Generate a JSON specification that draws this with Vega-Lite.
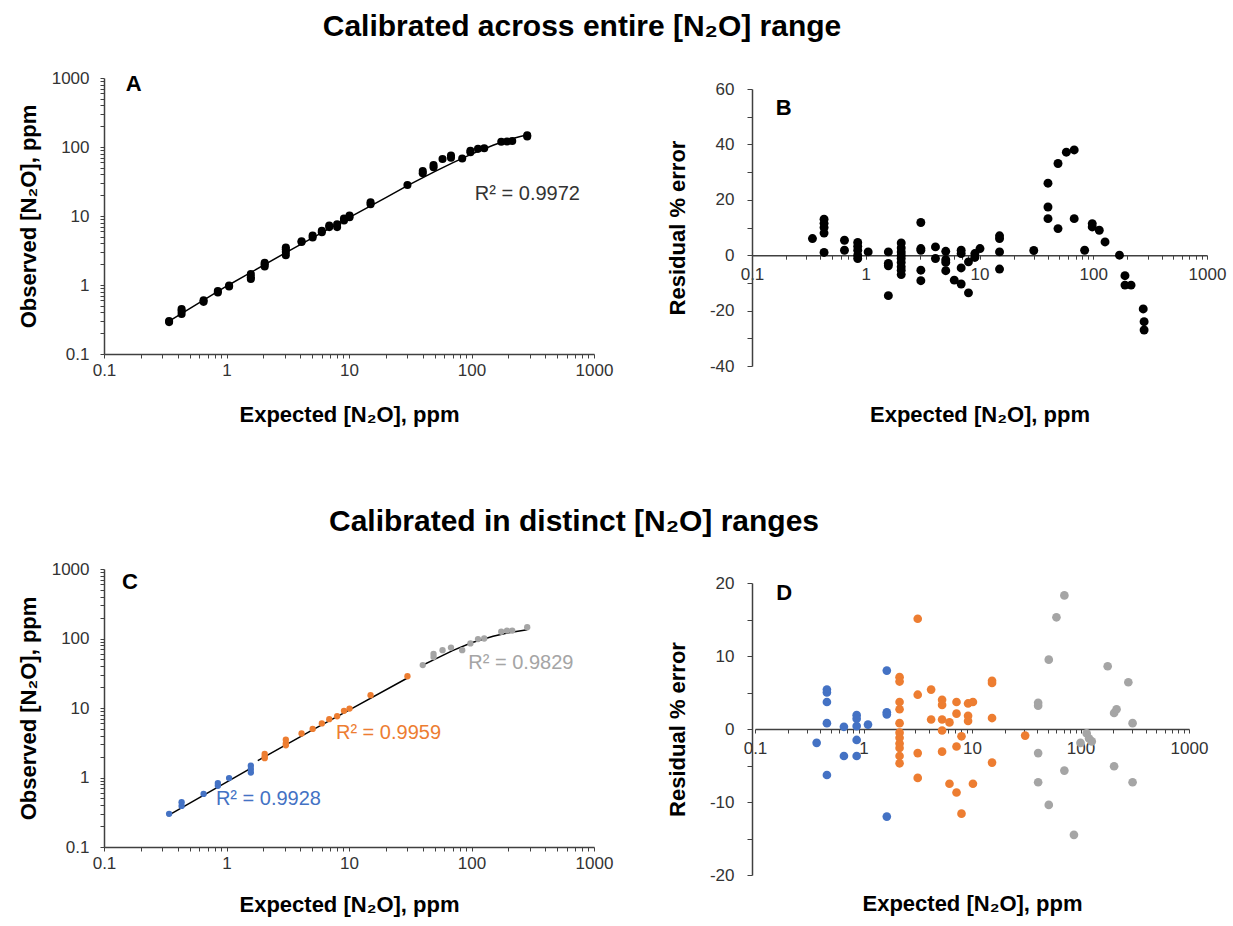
{
  "$schema": "https://vega.github.io/schema/vega-lite/v6.json",
  "background": "white",
  "padding": {"left": 17, "top": 12, "right": 5, "bottom": 5},
  "config": {
    "view": {"stroke": null},
    "font": "Liberation Sans",
    "axis": {
      "grid": false,
      "domainColor": "#404040",
      "domainWidth": 1.5,
      "tickColor": "#404040",
      "tickWidth": 1,
      "tickSize": 4,
      "labelFont": "Liberation Sans",
      "labelFontSize": 17,
      "labelColor": "#333333",
      "labelFlush": false,
      "labelOverlap": false,
      "titleFont": "Liberation Sans",
      "titleFontSize": 22,
      "titleFontWeight": "bold",
      "titleColor": "#000000"
    },
    "title": {"font": "Liberation Sans", "fontWeight": "bold", "fontSize": 30, "color": "#000000"}
  },
  "datasets": {
    "obsA": [
      {"expected": 0.34, "observed": 0.30}, {"expected": 0.34, "observed": 0.29},
      {"expected": 0.43, "observed": 0.45}, {"expected": 0.43, "observed": 0.42}, {"expected": 0.43, "observed": 0.38},
      {"expected": 0.65, "observed": 0.57}, {"expected": 0.65, "observed": 0.60},
      {"expected": 0.85, "observed": 0.78}, {"expected": 0.85, "observed": 0.82},
      {"expected": 1.05, "observed": 0.95}, {"expected": 1.05, "observed": 0.98},
      {"expected": 1.58, "observed": 1.44}, {"expected": 1.58, "observed": 1.30}, {"expected": 1.58, "observed": 1.22},
      {"expected": 2.05, "observed": 2.0}, {"expected": 2.05, "observed": 1.85}, {"expected": 2.05, "observed": 2.1},
      {"expected": 3.05, "observed": 3.3}, {"expected": 3.05, "observed": 3.0}, {"expected": 3.05, "observed": 2.7}, {"expected": 3.05, "observed": 3.5},
      {"expected": 4.1, "observed": 4.2}, {"expected": 4.1, "observed": 4.3},
      {"expected": 5.05, "observed": 5.2}, {"expected": 5.05, "observed": 4.9},
      {"expected": 6.0, "observed": 5.8}, {"expected": 6.0, "observed": 6.1},
      {"expected": 6.9, "observed": 6.9}, {"expected": 6.9, "observed": 7.3},
      {"expected": 8.0, "observed": 6.9}, {"expected": 8.0, "observed": 7.6},
      {"expected": 9.1, "observed": 8.6}, {"expected": 9.1, "observed": 9.2},
      {"expected": 10.1, "observed": 9.6}, {"expected": 10.1, "observed": 10.2},
      {"expected": 15, "observed": 14.8}, {"expected": 15, "observed": 15.8},
      {"expected": 30, "observed": 28.2},
      {"expected": 40, "observed": 41.6}, {"expected": 40, "observed": 45},
      {"expected": 49, "observed": 51}, {"expected": 49, "observed": 55},
      {"expected": 58, "observed": 67},
      {"expected": 68, "observed": 75}, {"expected": 68, "observed": 70},
      {"expected": 84, "observed": 68},
      {"expected": 98, "observed": 84}, {"expected": 98, "observed": 88},
      {"expected": 113, "observed": 94},
      {"expected": 127, "observed": 96},
      {"expected": 175, "observed": 119},
      {"expected": 195, "observed": 120},
      {"expected": 215, "observed": 122},
      {"expected": 285, "observed": 142}, {"expected": 285, "observed": 148}
    ],
    "fitA": [
      {"expected": 0.33, "observed": 0.29}, {"expected": 1, "observed": 0.96}, {"expected": 3, "observed": 2.9},
      {"expected": 10, "observed": 9.5}, {"expected": 20, "observed": 18.5}, {"expected": 30, "observed": 27.5},
      {"expected": 50, "observed": 44}, {"expected": 70, "observed": 59}, {"expected": 100, "observed": 79},
      {"expected": 150, "observed": 106}, {"expected": 200, "observed": 127}, {"expected": 250, "observed": 142},
      {"expected": 300, "observed": 153}
    ],
    "noteA": [{"expected": 286, "observed": 21, "text": "R² = 0.9972"}],
    "tagA": [{"expected": 0.175, "observed": 810, "text": "A"}],
    "obsB": [
      {"expected": 0.34, "residual": 6},
      {"expected": 0.43, "residual": 13}, {"expected": 0.43, "residual": 11.5}, {"expected": 0.43, "residual": 10}, {"expected": 0.43, "residual": 8}, {"expected": 0.43, "residual": 1},
      {"expected": 0.65, "residual": 5.4}, {"expected": 0.65, "residual": 1.8},
      {"expected": 0.85, "residual": 4.6}, {"expected": 0.85, "residual": 3.2}, {"expected": 0.85, "residual": 1.8}, {"expected": 0.85, "residual": 0}, {"expected": 0.85, "residual": -1.2},
      {"expected": 1.05, "residual": 1.2},
      {"expected": 1.58, "residual": 1.2}, {"expected": 1.58, "residual": -3}, {"expected": 1.58, "residual": -3.8}, {"expected": 1.58, "residual": -14.6},
      {"expected": 2.05, "residual": 4.4}, {"expected": 2.05, "residual": 2.6}, {"expected": 2.05, "residual": 1.2}, {"expected": 2.05, "residual": 0}, {"expected": 2.05, "residual": -1.2}, {"expected": 2.05, "residual": -2.6}, {"expected": 2.05, "residual": -4.2}, {"expected": 2.05, "residual": -5.4}, {"expected": 2.05, "residual": -7},
      {"expected": 3.05, "residual": 11.8}, {"expected": 3.05, "residual": 2.4}, {"expected": 3.05, "residual": 1.8}, {"expected": 3.05, "residual": -5.4}, {"expected": 3.05, "residual": -9.2},
      {"expected": 4.1, "residual": 3}, {"expected": 4.1, "residual": -1.2},
      {"expected": 5.05, "residual": 1.4}, {"expected": 5.05, "residual": -1.6}, {"expected": 5.05, "residual": -2.6}, {"expected": 5.05, "residual": -5.6},
      {"expected": 6.0, "residual": -9},
      {"expected": 6.9, "residual": 1.8}, {"expected": 6.9, "residual": 0.6}, {"expected": 6.9, "residual": -4.6}, {"expected": 6.9, "residual": -10.4},
      {"expected": 8.0, "residual": -2.4}, {"expected": 8.0, "residual": -13.6},
      {"expected": 9.1, "residual": 0.6}, {"expected": 9.1, "residual": -0.8},
      {"expected": 10.1, "residual": 2.4},
      {"expected": 15, "residual": 7}, {"expected": 15, "residual": 6}, {"expected": 15, "residual": 1.2}, {"expected": 15, "residual": -5},
      {"expected": 30, "residual": 1.7},
      {"expected": 40, "residual": 26}, {"expected": 40, "residual": 17.4}, {"expected": 40, "residual": 13.2},
      {"expected": 49, "residual": 33.1}, {"expected": 49, "residual": 9.6},
      {"expected": 58, "residual": 37.2},
      {"expected": 68, "residual": 38}, {"expected": 68, "residual": 13.2},
      {"expected": 84, "residual": 1.8},
      {"expected": 98, "residual": 11.4}, {"expected": 98, "residual": 10.2},
      {"expected": 113, "residual": 9},
      {"expected": 127, "residual": 4.8},
      {"expected": 170, "residual": 0},
      {"expected": 190, "residual": -7.4}, {"expected": 190, "residual": -10.8},
      {"expected": 215, "residual": -10.8},
      {"expected": 275, "residual": -19.4}, {"expected": 280, "residual": -24}, {"expected": 280, "residual": -27}
    ],
    "tagB": [{"expected": 0.19, "residual": 53, "text": "B"}],
    "obsC": [
      {"expected": 0.34, "observed": 0.30, "range": "low"},
      {"expected": 0.43, "observed": 0.39, "range": "low"}, {"expected": 0.43, "observed": 0.44, "range": "low"},
      {"expected": 0.65, "observed": 0.58, "range": "low"},
      {"expected": 0.85, "observed": 0.76, "range": "low"}, {"expected": 0.85, "observed": 0.83, "range": "low"},
      {"expected": 1.05, "observed": 0.98, "range": "low"},
      {"expected": 1.58, "observed": 1.48, "range": "low"}, {"expected": 1.58, "observed": 1.32, "range": "low"}, {"expected": 1.58, "observed": 1.18, "range": "low"},
      {"expected": 2.05, "observed": 2.0, "range": "mid"}, {"expected": 2.05, "observed": 2.18, "range": "mid"}, {"expected": 2.05, "observed": 1.9, "range": "mid"},
      {"expected": 3.05, "observed": 3.5, "range": "mid"}, {"expected": 3.05, "observed": 3.1, "range": "mid"}, {"expected": 3.05, "observed": 2.9, "range": "mid"},
      {"expected": 4.1, "observed": 4.3, "range": "mid"},
      {"expected": 5.05, "observed": 5.0, "range": "mid"},
      {"expected": 6.0, "observed": 6.0, "range": "mid"},
      {"expected": 6.9, "observed": 6.9, "range": "mid"},
      {"expected": 8.0, "observed": 7.6, "range": "mid"},
      {"expected": 9.1, "observed": 9.1, "range": "mid"},
      {"expected": 10.1, "observed": 9.8, "range": "mid"},
      {"expected": 15, "observed": 15.3, "range": "mid"},
      {"expected": 30, "observed": 28.6, "range": "mid"},
      {"expected": 40, "observed": 41.5, "range": "high"},
      {"expected": 49, "observed": 54, "range": "high"}, {"expected": 49, "observed": 60, "range": "high"},
      {"expected": 58, "observed": 68, "range": "high"},
      {"expected": 68, "observed": 74, "range": "high"},
      {"expected": 84, "observed": 68, "range": "high"},
      {"expected": 98, "observed": 85, "range": "high"},
      {"expected": 113, "observed": 98, "range": "high"},
      {"expected": 127, "observed": 100, "range": "high"},
      {"expected": 175, "observed": 125, "range": "high"},
      {"expected": 195, "observed": 130, "range": "high"},
      {"expected": 215, "observed": 130, "range": "high"},
      {"expected": 285, "observed": 145, "range": "high"}
    ],
    "fitC": [
      {"expected": 0.33, "observed": 0.28, "range": "low"}, {"expected": 1.6, "observed": 1.38, "range": "low"},
      {"expected": 1.8, "observed": 1.75, "range": "mid"}, {"expected": 5, "observed": 4.8, "range": "mid"}, {"expected": 10, "observed": 9.3, "range": "mid"}, {"expected": 30, "observed": 27, "range": "mid"},
      {"expected": 39, "observed": 40.5, "range": "high"}, {"expected": 50, "observed": 50, "range": "high"}, {"expected": 70, "observed": 67, "range": "high"},
      {"expected": 100, "observed": 87, "range": "high"}, {"expected": 150, "observed": 108, "range": "high"}, {"expected": 200, "observed": 121, "range": "high"},
      {"expected": 285, "observed": 134, "range": "high"}
    ],
    "noteC": [
      {"expected": 2.2, "observed": 0.49, "text": "R² = 0.9928", "range": "low"},
      {"expected": 21, "observed": 4.4, "text": "R² = 0.9959", "range": "mid"},
      {"expected": 253, "observed": 45, "text": "R² = 0.9829", "range": "high"}
    ],
    "tagC": [{"expected": 0.163, "observed": 643, "text": "C"}],
    "obsD": [
      {"expected": 0.37, "residual": -1.9, "range": "low"},
      {"expected": 0.46, "residual": 5.4, "range": "low"}, {"expected": 0.46, "residual": 5.0, "range": "low"}, {"expected": 0.46, "residual": 3.7, "range": "low"}, {"expected": 0.46, "residual": 0.8, "range": "low"}, {"expected": 0.46, "residual": -6.3, "range": "low"},
      {"expected": 0.66, "residual": 0.3, "range": "low"}, {"expected": 0.66, "residual": -3.7, "range": "low"},
      {"expected": 0.865, "residual": 1.9, "range": "low"}, {"expected": 0.865, "residual": 1.4, "range": "low"}, {"expected": 0.865, "residual": 0.4, "range": "low"}, {"expected": 0.865, "residual": -1.5, "range": "low"}, {"expected": 0.865, "residual": -3.7, "range": "low"},
      {"expected": 1.1, "residual": 0.6, "range": "low"},
      {"expected": 1.64, "residual": 8.0, "range": "low"}, {"expected": 1.64, "residual": 2.3, "range": "low"}, {"expected": 1.64, "residual": 2.0, "range": "low"}, {"expected": 1.64, "residual": -12, "range": "low"},
      {"expected": 2.15, "residual": 7.1, "range": "mid"}, {"expected": 2.15, "residual": 6.5, "range": "mid"}, {"expected": 2.15, "residual": 3.7, "range": "mid"}, {"expected": 2.15, "residual": 2.7, "range": "mid"}, {"expected": 2.15, "residual": 0.8, "range": "mid"}, {"expected": 2.15, "residual": -0.5, "range": "mid"}, {"expected": 2.15, "residual": -1.2, "range": "mid"}, {"expected": 2.15, "residual": -2.0, "range": "mid"}, {"expected": 2.15, "residual": -2.6, "range": "mid"}, {"expected": 2.15, "residual": -3.7, "range": "mid"}, {"expected": 2.15, "residual": -4.7, "range": "mid"},
      {"expected": 3.16, "residual": 15.1, "range": "mid"}, {"expected": 3.16, "residual": 4.7, "range": "mid"}, {"expected": 3.16, "residual": -3.3, "range": "mid"}, {"expected": 3.16, "residual": -6.7, "range": "mid"},
      {"expected": 4.2, "residual": 5.4, "range": "mid"}, {"expected": 4.2, "residual": 1.3, "range": "mid"},
      {"expected": 5.3, "residual": 4.0, "range": "mid"}, {"expected": 5.3, "residual": 3.3, "range": "mid"}, {"expected": 5.3, "residual": 1.3, "range": "mid"}, {"expected": 5.3, "residual": -0.2, "range": "mid"}, {"expected": 5.3, "residual": -3.1, "range": "mid"},
      {"expected": 6.2, "residual": 0.9, "range": "mid"}, {"expected": 6.2, "residual": -7.5, "range": "mid"},
      {"expected": 7.2, "residual": 3.7, "range": "mid"}, {"expected": 7.2, "residual": 2.1, "range": "mid"}, {"expected": 7.2, "residual": -2.4, "range": "mid"}, {"expected": 7.2, "residual": -8.7, "range": "mid"},
      {"expected": 8.0, "residual": -1.0, "range": "mid"}, {"expected": 8.0, "residual": -11.6, "range": "mid"},
      {"expected": 9.2, "residual": 3.5, "range": "mid"}, {"expected": 9.2, "residual": 1.8, "range": "mid"}, {"expected": 9.2, "residual": 1.1, "range": "mid"},
      {"expected": 10.2, "residual": 3.7, "range": "mid"}, {"expected": 10.2, "residual": -7.5, "range": "mid"},
      {"expected": 15.3, "residual": 6.6, "range": "mid"}, {"expected": 15.3, "residual": 6.3, "range": "mid"}, {"expected": 15.3, "residual": 1.5, "range": "mid"}, {"expected": 15.3, "residual": -4.6, "range": "mid"},
      {"expected": 30.9, "residual": -0.9, "range": "mid"},
      {"expected": 40.7, "residual": 3.6, "range": "high"}, {"expected": 40.7, "residual": 3.2, "range": "high"}, {"expected": 40.7, "residual": -3.3, "range": "high"}, {"expected": 40.7, "residual": -7.3, "range": "high"},
      {"expected": 51, "residual": 9.5, "range": "high"}, {"expected": 51, "residual": -10.4, "range": "high"},
      {"expected": 60, "residual": 15.3, "range": "high"},
      {"expected": 71, "residual": 18.3, "range": "high"}, {"expected": 71, "residual": -5.7, "range": "high"},
      {"expected": 87, "residual": -14.5, "range": "high"},
      {"expected": 100, "residual": -1.9, "range": "high"},
      {"expected": 114, "residual": -0.6, "range": "high"},
      {"expected": 120, "residual": -1.3, "range": "high"},
      {"expected": 127, "residual": -1.7, "range": "high"},
      {"expected": 178, "residual": 8.6, "range": "high"},
      {"expected": 204, "residual": 2.2, "range": "high"}, {"expected": 204, "residual": -5.1, "range": "high"},
      {"expected": 215, "residual": 2.7, "range": "high"},
      {"expected": 276, "residual": 6.4, "range": "high"},
      {"expected": 302, "residual": 0.8, "range": "high"}, {"expected": 302, "residual": -7.3, "range": "high"}
    ],
    "tagD": [{"expected": 0.186, "residual": 18.6, "text": "D"}]
  },
  "concat": [
    {
      "width": 490,
      "height": 276,
      "title": {"text": "Calibrated across entire [N₂O] range", "frame": "group", "anchor": "middle", "dx": 233, "offset": 27},
      "encoding": {
        "x": {"field": "expected", "type": "quantitative",
          "scale": {"type": "log", "domain": [0.1, 1000], "nice": false},
          "axis": {"title": "Expected [N₂O], ppm", "format": "~g", "labelPadding": 4, "titlePadding": 26,
            "values": [0.1,0.2,0.3,0.4,0.5,0.6,0.7,0.8,0.9,1,2,3,4,5,6,7,8,9,10,20,30,40,50,60,70,80,90,100,200,300,400,500,600,700,800,900,1000],
            "labelExpr": "abs(log(datum.value)/LN10 - round(log(datum.value)/LN10)) < 0.001 ? datum.label : ''"}},
        "y": {"field": "observed", "type": "quantitative",
          "scale": {"type": "log", "domain": [0.1, 1000], "nice": false},
          "axis": {"title": "Observed [N₂O], ppm", "format": "~g", "labelPadding": 11, "titlePadding": 11,
            "values": [0.1,0.2,0.3,0.4,0.5,0.6,0.7,0.8,0.9,1,2,3,4,5,6,7,8,9,10,20,30,40,50,60,70,80,90,100,200,300,400,500,600,700,800,900,1000],
            "labelExpr": "abs(log(datum.value)/LN10 - round(log(datum.value)/LN10)) < 0.001 ? datum.label : ''"}}
      },
      "layer": [
        {"data": {"name": "fitA"}, "mark": {"type": "line", "color": "#000000", "strokeWidth": 1.5}},
        {"data": {"name": "obsA"}, "mark": {"type": "circle", "color": "#000000", "size": 65, "opacity": 1}},
        {"data": {"name": "noteA"}, "mark": {"type": "text", "fontSize": 20, "color": "#333333", "align": "center"}, "encoding": {"text": {"field": "text"}}},
        {"data": {"name": "tagA"}, "mark": {"type": "text", "fontSize": 22, "fontWeight": "bold", "color": "#000000", "align": "center"}, "encoding": {"text": {"field": "text"}}}
      ]
    },
    {
      "width": 455,
      "height": 288,
      "encoding": {
        "x": {"field": "expected", "type": "quantitative",
          "scale": {"type": "log", "domain": [0.1, 1000], "nice": false},
          "axis": {"title": "Expected [N₂O], ppm", "format": "~g", "offset": -110.8, "labelPadding": 7, "titleY": 149,
            "values": [0.1,0.2,0.3,0.4,0.5,0.6,0.7,0.8,0.9,1,2,3,4,5,6,7,8,9,10,20,30,40,50,60,70,80,90,100,200,300,400,500,600,700,800,900,1000],
            "labelExpr": "abs(log(datum.value)/LN10 - round(log(datum.value)/LN10)) < 0.001 ? datum.label : ''"}},
        "y": {"field": "residual", "type": "quantitative",
          "scale": {"domain": [-40, 60], "range": [288, 11], "nice": false, "zero": false},
          "axis": {"title": "Residual % error", "tickSize": 5, "labelPadding": 13, "titlePadding": 20,
            "values": [-40, -30, -20, -10, 0, 10, 20, 30, 40, 50, 60],
            "labelExpr": "datum.value % 20 == 0 ? '' + datum.value : ''"}}
      },
      "layer": [
        {"data": {"name": "obsB"}, "mark": {"type": "circle", "color": "#000000", "size": 80, "opacity": 1}},
        {"data": {"name": "tagB"}, "mark": {"type": "text", "fontSize": 22, "fontWeight": "bold", "color": "#000000", "align": "center"}, "encoding": {"text": {"field": "text"}}}
      ]
    },
    {
      "width": 490,
      "height": 278,
      "title": {"text": "Calibrated in distinct [N₂O] ranges", "frame": "group", "anchor": "middle", "dx": 225, "offset": 23},
      "encoding": {
        "x": {"field": "expected", "type": "quantitative",
          "scale": {"type": "log", "domain": [0.1, 1000], "nice": false},
          "axis": {"title": "Expected [N₂O], ppm", "format": "~g", "labelPadding": 4, "titlePadding": 23,
            "values": [0.1,0.2,0.3,0.4,0.5,0.6,0.7,0.8,0.9,1,2,3,4,5,6,7,8,9,10,20,30,40,50,60,70,80,90,100,200,300,400,500,600,700,800,900,1000],
            "labelExpr": "abs(log(datum.value)/LN10 - round(log(datum.value)/LN10)) < 0.001 ? datum.label : ''"}},
        "y": {"field": "observed", "type": "quantitative",
          "scale": {"type": "log", "domain": [0.1, 1000], "nice": false},
          "axis": {"title": "Observed [N₂O], ppm", "format": "~g", "labelPadding": 11, "titlePadding": 11,
            "values": [0.1,0.2,0.3,0.4,0.5,0.6,0.7,0.8,0.9,1,2,3,4,5,6,7,8,9,10,20,30,40,50,60,70,80,90,100,200,300,400,500,600,700,800,900,1000],
            "labelExpr": "abs(log(datum.value)/LN10 - round(log(datum.value)/LN10)) < 0.001 ? datum.label : ''"}}
      },
      "layer": [
        {"data": {"name": "fitC"}, "mark": {"type": "line", "color": "#000000", "strokeWidth": 1.5}, "encoding": {"detail": {"field": "range"}}},
        {"data": {"name": "obsC"}, "mark": {"type": "circle", "size": 40, "opacity": 1},
          "encoding": {"color": {"field": "range", "type": "nominal", "scale": {"domain": ["low", "mid", "high"], "range": ["#4472C4", "#ED7D31", "#A5A5A5"]}, "legend": null}}},
        {"data": {"name": "noteC"}, "mark": {"type": "text", "fontSize": 20, "align": "center"},
          "encoding": {"text": {"field": "text"}, "color": {"field": "range", "type": "nominal", "scale": {"domain": ["low", "mid", "high"], "range": ["#4472C4", "#ED7D31", "#A5A5A5"]}, "legend": null}}},
        {"data": {"name": "tagC"}, "mark": {"type": "text", "fontSize": 22, "fontWeight": "bold", "color": "#000000", "align": "center"}, "encoding": {"text": {"field": "text"}}}
      ]
    },
    {
      "width": 437,
      "height": 306,
      "encoding": {
        "x": {"field": "expected", "type": "quantitative",
          "scale": {"type": "log", "domain": [0.1, 1000], "range": [3, 437], "nice": false},
          "axis": {"title": "Expected [N₂O], ppm", "format": "~g", "offset": -146, "labelPadding": 7, "titleY": 164,
            "values": [0.1,0.2,0.3,0.4,0.5,0.6,0.7,0.8,0.9,1,2,3,4,5,6,7,8,9,10,20,30,40,50,60,70,80,90,100,200,300,400,500,600,700,800,900,1000],
            "labelExpr": "abs(log(datum.value)/LN10 - round(log(datum.value)/LN10)) < 0.001 ? datum.label : ''"}},
        "y": {"field": "residual", "type": "quantitative",
          "scale": {"domain": [-20, 20], "range": [306, 14], "nice": false, "zero": false},
          "axis": {"title": "Residual % error", "tickSize": 5, "labelPadding": 13, "titlePadding": 20,
            "values": [-20, -15, -10, -5, 0, 5, 10, 15, 20],
            "labelExpr": "datum.value % 10 == 0 ? '' + datum.value : ''"}}
      },
      "layer": [
        {"data": {"name": "obsD"}, "mark": {"type": "circle", "size": 75, "opacity": 1},
          "encoding": {"color": {"field": "range", "type": "nominal", "scale": {"domain": ["low", "mid", "high"], "range": ["#4472C4", "#ED7D31", "#A5A5A5"]}, "legend": null}}},
        {"data": {"name": "tagD"}, "mark": {"type": "text", "fontSize": 22, "fontWeight": "bold", "color": "#000000", "align": "center"}, "encoding": {"text": {"field": "text"}}}
      ]
    }
  ],
  "columns": 2,
  "spacing": {"row": 203, "column": 158},
  "bounds": "flush"
}
